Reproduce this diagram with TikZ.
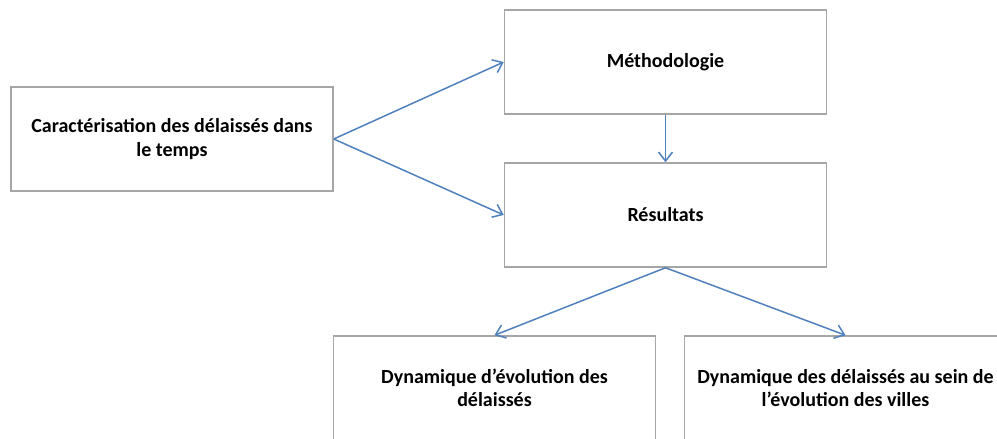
\documentclass[tikz,border=0pt]{standalone}
\usepackage{fontspec}
\setmainfont{Carlito}
\usetikzlibrary{arrows.meta}
\definecolor{boxGray}{HTML}{A6A6A6}
\definecolor{arrBlue}{HTML}{4F81BD}
\begin{document}
\begin{tikzpicture}[x=1bp,y=-1bp,
        bloc/.style={draw=boxGray,line width=1.5bp,minimum width=322bp,minimum height=104bp,
          inner sep=0pt,align=center,font=\bfseries\fontsize{20bp}{23.5bp}\selectfont},
        fleche/.style={draw=arrBlue,line width=1.5bp,-{Straight Barb[length=9bp,width=14bp]}}]
        \useasboundingbox (0,0) rectangle (997,439);
        \clip (0,0) rectangle (997,439);
        % boxes
        \node[bloc] (carac) at (172,139) {Caractérisation des délaissés dans\\le temps};
        \node[bloc] (metho) at (665.5,62) {Méthodologie};
        \node[bloc] (resul) at (665.5,215) {Résultats};
        \node[bloc] (dynEvol) at (494.5,388) {Dynamique d’évolution des\\délaissés};
        \node[bloc] (dynVill) at (845.5,388) {Dynamique des délaissés au sein de\\l’évolution des villes};
        % arrows
        \draw[fleche] (carac.east) -- (metho.west);
        \draw[fleche] (carac.east) -- (resul.west);
        \draw[fleche] (metho.south) -- (resul.north);
        \draw[fleche] (resul.south) -- (dynEvol.north);
        \draw[fleche] (resul.south) -- (dynVill.north);
    \end{tikzpicture}
\end{document}
